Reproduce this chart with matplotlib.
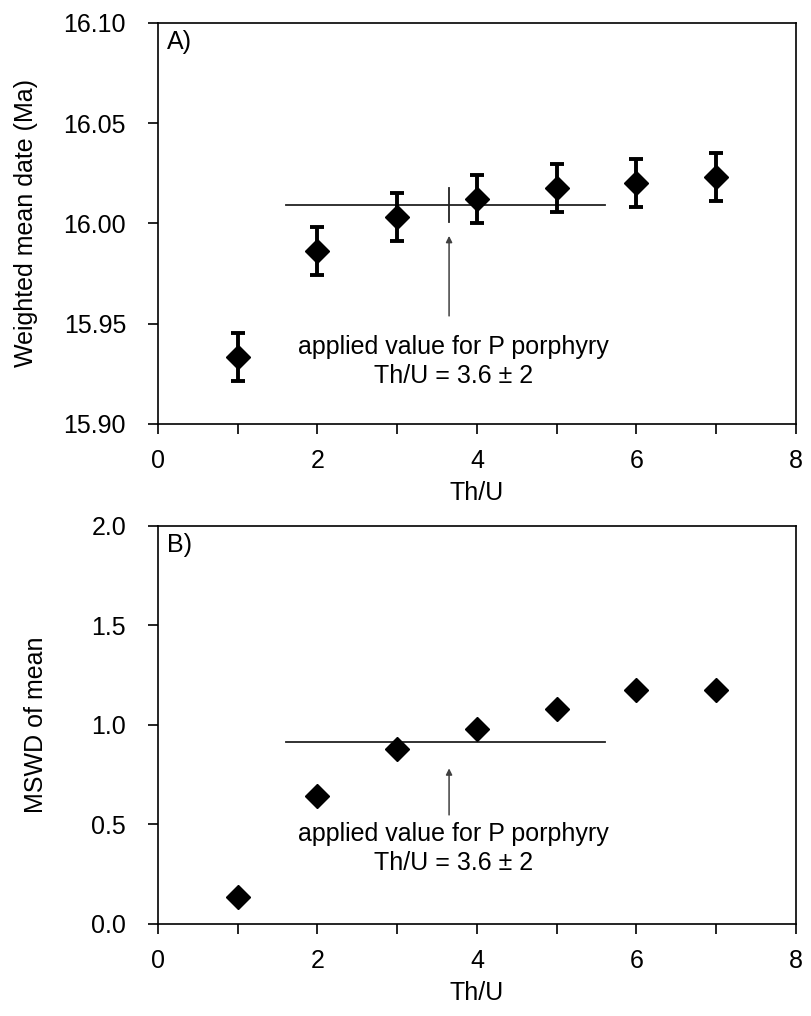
import matplotlib.pyplot as plt
from matplotlib.ticker import MultipleLocator, FormatStrFormatter

plt.rcParams['font.family'] = ['Liberation Sans', 'DejaVu Sans']
plt.rcParams['font.size'] = 18

# Th/U ratios tested
th_u = [1, 2, 3, 4, 5, 6, 7]

# A) weighted mean date (Ma) with 2-sigma uncertainty
wm_date = [15.9336, 15.9864, 16.0034, 16.0124, 16.0176, 16.0204, 16.0232]
wm_err = [0.012, 0.012, 0.012, 0.012, 0.012, 0.012, 0.012]

# B) MSWD of the weighted mean
mswd = [0.134, 0.642, 0.879, 0.978, 1.079, 1.176, 1.176]

# applied value for P porphyry
applied = 3.6
applied_spread = 2
arrow_x = 3.65
date_at_applied = 16.0092
mswd_at_applied = 0.912

line_col = '#222222'
arrow_col = '#404040'

fig = plt.figure(figsize=(8.11, 10.16), dpi=100)
ax1 = fig.add_axes([0.1948, 0.5827, 0.7867, 0.3947])
ax2 = fig.add_axes([0.1948, 0.0906, 0.7867, 0.3917])


def style(ax):
    ax.set_xlim(0, 8)
    ax.xaxis.set_major_locator(MultipleLocator(2))
    ax.xaxis.set_minor_locator(MultipleLocator(1))
    ax.tick_params(which='both', direction='out', length=7, width=1.2)
    ax.tick_params(axis='y', pad=16)
    ax.tick_params(axis='x', pad=11)
    ax.tick_params(right=False, top=False)
    for s in ax.spines.values():
        s.set_linewidth(1.2)
    ax.set_xlabel('Th/U', labelpad=6)


# ---- panel A
style(ax1)
ax1.set_ylim(15.90, 16.10)
ax1.yaxis.set_major_locator(MultipleLocator(0.05))
ax1.yaxis.set_major_formatter(FormatStrFormatter('%.2f'))
ax1.errorbar(th_u, wm_date, yerr=wm_err, fmt='D', color='black', ms=12.5,
             elinewidth=2.8, capsize=5, capthick=2.8, zorder=3)
ax1.plot([applied - applied_spread, applied + applied_spread],
         [date_at_applied, date_at_applied], color=line_col, lw=1.3)
ax1.plot([arrow_x, arrow_x], [16.0007, 16.0177], color=line_col, lw=1.3)
ax1.annotate('', xy=(arrow_x, 15.9938), xytext=(arrow_x, 15.9539),
             arrowprops=dict(arrowstyle='-|>', color=arrow_col, lw=1.1,
                             mutation_scale=9, shrinkA=0, shrinkB=0))
ax1.text(3.70, 15.9349, 'applied value for P porphyry', ha='center', va='baseline')
ax1.text(3.70, 15.9204, 'Th/U = 3.6 \u00b1 2', ha='center', va='baseline')
ax1.text(0.014, 0.982, 'A)', transform=ax1.transAxes, ha='left', va='top')
ax1.set_ylabel('Weighted mean date (Ma)')
ax1.yaxis.set_label_coords(-0.188, 0.5)

# ---- panel B
style(ax2)
ax2.set_ylim(0, 2.0)
ax2.yaxis.set_major_locator(MultipleLocator(0.5))
ax2.yaxis.set_major_formatter(FormatStrFormatter('%.1f'))
ax2.plot(th_u, mswd, 'D', color='black', ms=12.5, zorder=3)
ax2.plot([applied - applied_spread, applied + applied_spread],
         [mswd_at_applied, mswd_at_applied], color=line_col, lw=1.3)
ax2.annotate('', xy=(arrow_x, 0.782), xytext=(arrow_x, 0.548),
             arrowprops=dict(arrowstyle='-|>', color=arrow_col, lw=1.1,
                             mutation_scale=9, shrinkA=0, shrinkB=0))
ax2.text(3.70, 0.417, 'applied value for P porphyry', ha='center', va='baseline')
ax2.text(3.70, 0.271, 'Th/U = 3.6 \u00b1 2', ha='center', va='baseline')
ax2.text(0.014, 0.982, 'B)', transform=ax2.transAxes, ha='left', va='top')
ax2.set_ylabel('MSWD of mean')
ax2.yaxis.set_label_coords(-0.173, 0.5)

fig.savefig('out.png', dpi=100)
